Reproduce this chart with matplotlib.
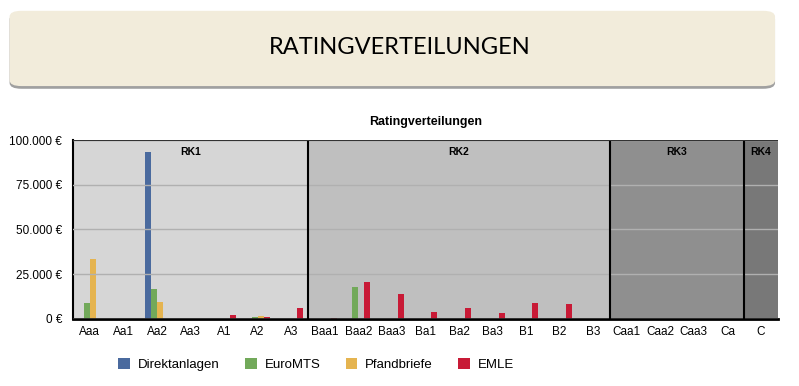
import numpy as np
import matplotlib.pyplot as plt
from matplotlib.patches import FancyBboxPatch
from matplotlib.ticker import FuncFormatter

plt.rcParams['font.family'] = ['Liberation Sans', 'DejaVu Sans']

ratings = ['Aaa', 'Aa1', 'Aa2', 'Aa3', 'A1', 'A2', 'A3',
           'Baa1', 'Baa2', 'Baa3', 'Ba1', 'Ba2', 'Ba3', 'B1', 'B2', 'B3',
           'Caa1', 'Caa2', 'Caa3', 'Ca', 'C']
direktanlagen = [0, 0, 93300, 0, 0, 0, 0, 0, 0, 0, 0, 0, 0, 0, 0, 0, 0, 0, 0, 0, 0]
euromts = [8900, 0, 16800, 0, 0, 900, 0, 0, 17900, 0, 0, 0, 0, 0, 0, 0, 0, 0, 0, 0, 0]
pfandbriefe = [33500, 0, 9700, 0, 0, 1700, 0, 0, 0, 0, 0, 0, 0, 0, 0, 0, 0, 0, 0, 0, 0]
emle = [0, 0, 0, 0, 2200, 1100, 6100, 500, 20700, 14000, 4000, 6100, 3300, 8900, 8300, 0, 0, 0, 0, 0, 0]

series_names = ['Direktanlagen', 'EuroMTS', 'Pfandbriefe', 'EMLE']
series_colors = ['#4a6a9e', '#72a95a', '#e5b450', '#c81a36']

# rating classes: label, number of ratings, background
classes = [('RK1', 7, '#d6d6d6'), ('RK2', 9, '#bfbfbf'),
           ('RK3', 4, '#8f8f8f'), ('RK4', 1, '#787878')]

fig = plt.figure(figsize=(7.99, 3.86), dpi=100)

# header box
shadow = FancyBboxPatch((0.012, 0.77), 0.958, 0.195, boxstyle='round,pad=0,rounding_size=0.015',
                        transform=fig.transFigure, facecolor='#a0a0a0', edgecolor='none')
box = FancyBboxPatch((0.012, 0.777), 0.958, 0.195, boxstyle='round,pad=0,rounding_size=0.015',
                     transform=fig.transFigure, facecolor='#f2ecdb', edgecolor='none')
fig.patches.extend([shadow, box])
fig.text(0.5, 0.877, 'RATINGVERTEILUNGEN', ha='center', va='center', fontsize=17,
         family=['Lato', 'DejaVu Sans'], color='black')

ax = fig.add_axes([0.0914, 0.1736, 0.882, 0.4637])
x = np.arange(len(ratings))

start = -0.5
for name, n, bg in classes:
    ax.axvspan(start, start + n, color=bg, zorder=0, lw=0)
    ax.text(start + n / 2, 96000, name, ha='center', va='top', fontsize=7.5, fontweight='bold')
    start += n
    if start < len(ratings) - 0.5:
        ax.axvline(start, color='black', lw=1.5, zorder=3)

w = 0.18
for i, (vals, name, col) in enumerate(zip([direktanlagen, euromts, pfandbriefe, emle],
                                          series_names, series_colors)):
    ax.bar(x + (i - 1.5) * w, vals, width=w, color=col, label=name, zorder=2)

ax.set_xlim(-0.5, len(ratings) - 0.5)
ax.set_ylim(0, 100000)
ax.set_yticks([0, 25000, 50000, 75000, 100000])
ax.yaxis.set_major_formatter(FuncFormatter(lambda v, p: f'{int(v):,} €'.replace(',', '.')))
ax.set_xticks(x)
ax.set_xticklabels(ratings)
ax.tick_params(length=0, labelsize=8.5)
ax.tick_params(axis='y', pad=8)
ax.tick_params(axis='x', pad=5)
ax.grid(axis='y', color='#b0b0b0', lw=1, zorder=1)
ax.set_axisbelow(False)
for s in ['top', 'right']:
    ax.spines[s].set_visible(False)
ax.spines['left'].set_linewidth(1.5)
ax.spines['bottom'].set_linewidth(2)
ax.axhline(100000, color='#333333', lw=1.5, zorder=3)

ax.set_title('Ratingverteilungen', fontsize=9, fontweight='bold', pad=11)

ax.legend(loc='upper center', bbox_to_anchor=(0.345, -0.15), ncol=4, frameon=False,
          fontsize=9.5, handlelength=0.9, handleheight=0.9, handletextpad=0.6,
          columnspacing=1.9)

fig.savefig('out.png', dpi=100)
